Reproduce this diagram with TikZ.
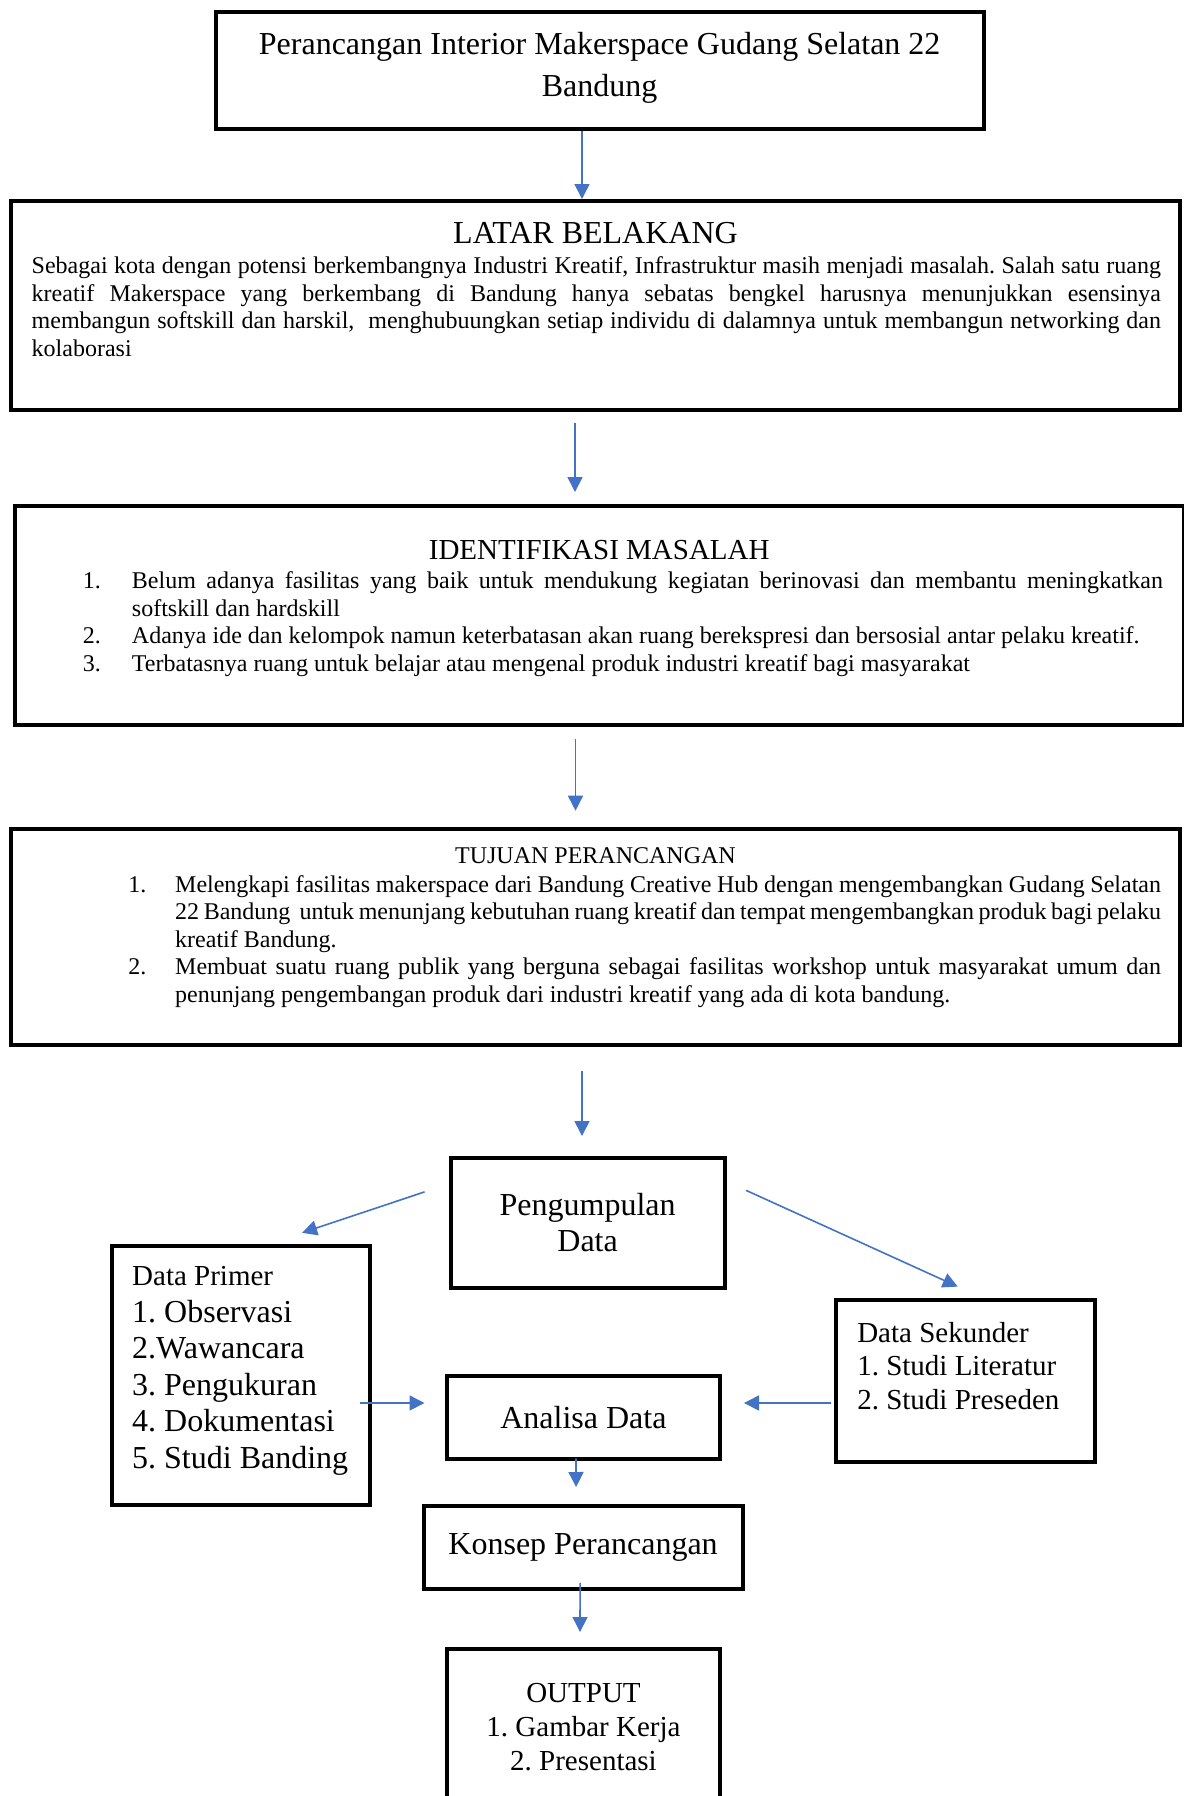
\documentclass[tikz,border=0pt]{standalone}
\usepackage{fontspec}
\setmainfont{Liberation Serif}
\usetikzlibrary{arrows.meta, positioning}
\definecolor{flowblue}{RGB}{68,114,196}
\frenchspacing
\newcommand{\numitem}[2]{\par\hangindent=#1\hangafter=1\noindent\makebox[#1][l]{#2}}
\newcommand{\firstline}[1]{\rule{0pt}{#1}}

\begin{document}
\begin{tikzpicture}[x=0.5pt, y=-0.5pt,
  frame/.style={rectangle, draw=black, line width=2pt, inner sep=0pt, align=center},
  flow/.style={draw=flowblue, line width=0.8pt, -{Triangle[length=7.5pt, width=7.5pt]}}
]
\clip (0,0) rectangle (1184,1796);

% kotak judul dan tiga kotak besar
\node[frame] (judul) at (599.65,70) {\parbox[c][58.5pt][t]{383.95pt}{\centering\fontsize{16}{21.25}\selectfont
  \firstline{21.25pt}Perancangan Interior Makerspace Gudang Selatan 22\\ Bandung}};

\node[frame] (latar) at (595.5,305.5) {\parbox[c][104.5pt][t]{584.5pt}{%
  {\centering\fontsize{16}{19}\selectfont\firstline{21pt}LATAR BELAKANG\par}
  \vspace{1.45pt}
  \fontsize{12}{13.8}\selectfont\leftskip=10.35pt\rightskip=9.5pt
  Sebagai kota dengan potensi berkembangnya Industri Kreatif, Infrastruktur masih menjadi masalah. Salah satu ruang\linebreak
  kreatif Makerspace yang berkembang di Bandung hanya sebatas bengkel harusnya menunjukkan esensinya\linebreak
  membangun softskill dan harskil, \ menghubuungkan setiap individu di dalamnya untuk membangun networking dan\linebreak
  kolaborasi\par}};

\node[frame] (identifikasi) at (599.25,615) {\parbox[c][109.5pt][t]{584.75pt}{%
  {\centering\fontsize{14.5}{17}\selectfont\firstline{26.85pt}IDENTIFIKASI MASALAH\par}
  \vspace{0.8pt}
  \fontsize{12}{13.8}\selectfont\leftskip=34.25pt\rightskip=10.5pt
  \numitem{24.5pt}{1.}Belum adanya fasilitas yang baik untuk mendukung kegiatan berinovasi dan membantu meningkatkan\linebreak
  softskill dan hardskill
  \numitem{24.5pt}{2.}Adanya ide dan kelompok namun keterbatasan akan ruang berekspresi dan bersosial antar pelaku kreatif.
  \numitem{24.5pt}{3.}Terbatasnya ruang untuk belajar atau mengenal produk industri kreatif bagi masyarakat\par}};

\node[frame] (tujuan) at (595.5,936.75) {\parbox[c][107.75pt][t]{584.5pt}{%
  {\centering\fontsize{12}{13.8}\selectfont\firstline{17.15pt}TUJUAN PERANCANGAN\par}
  \vspace{0.55pt}
  \fontsize{12}{13.8}\selectfont\leftskip=58.7pt\rightskip=9.5pt
  \numitem{23.4pt}{1.}Melengkapi fasilitas makerspace dari Bandung Creative Hub dengan mengembangkan Gudang Selatan\linebreak
  22 Bandung \ untuk menunjang kebutuhan ruang kreatif dan tempat mengembangkan produk bagi pelaku\linebreak
  kreatif Bandung.
  \numitem{23.4pt}{2.}Membuat suatu ruang publik yang berguna sebagai fasilitas workshop untuk masyarakat umum dan\linebreak
  penunjang pengembangan produk dari industri kreatif yang ada di kota bandung.\par}};

% bagian pengumpulan data
\node[frame, minimum width=137pt, minimum height=65.15pt, font=\fontsize{16}{18}\selectfont] (pengumpulan) at (587.6,1222.85) {Pengumpulan\\Data};

\node[frame] (primer) at (240.55,1375.4) {\parbox[c][129.6pt][t]{129.05pt}{\raggedright\leftskip=10.35pt
  \fontsize{14.5}{18.25}\selectfont\firstline{19.9pt}Data Primer\par
  \fontsize{16}{18.25}\selectfont 1. Observasi\par 2.Wawancara\par 3. Pengukuran\par 4. Dokumentasi\par 5. Studi Banding\par}};

\node[frame] (sekunder) at (965.25,1380.95) {\parbox[c][81.35pt][t]{129.45pt}{\raggedright\leftskip=10.75pt
  \fontsize{14.5}{16.9}\selectfont\firstline{21.2pt}Data Sekunder\par 1. Studi Literatur\par 2. Studi Preseden\par}};

\node[frame, minimum width=136.55pt, minimum height=41.35pt, font=\fontsize{16}{18}\selectfont] (analisa) at (583.45,1417.15) {Analisa Data};
\node[frame, minimum width=159.6pt, minimum height=41.8pt, font=\fontsize{16}{18}\selectfont] (konsep) at (583.1,1547.6) {Konsep Perancangan};

\node[frame] (output) at (583.5,1743.35) {\parbox[c][94.65pt][t]{136.5pt}{\centering\fontsize{14.5}{17}\selectfont
  \firstline{26.9pt}OUTPUT\\ 1. Gambar Kerja\\ 2. Presentasi}};

% panah
\draw[flow] ([shift={(-17.65,0)}]judul.south) -- ([shift={(-13.5,0)}]latar.north);
\draw[flow] ([shift={(-20.5,11)}]latar.south) -- ([shift={(-24.25,-11.5)}]identifikasi.north);
\draw[flow] ([shift={(-23.75,12)}]identifikasi.south) -- ([shift={(-20,-16.3)}]tujuan.north);
\draw[flow] ([shift={(-13.5,24.5)}]tujuan.south) -- ([shift={(-5.6,-19.7)}]pengumpulan.north);
\draw[flow] ([shift={(-24,-31)}]pengumpulan.west) -- ([shift={(61.5,-11)}]primer.north);
\draw[flow] ([shift={(19.5,-32.5)}]pengumpulan.east) -- ([shift={(-7.5,-11)}]sekunder.north);
\draw[flow] ([shift={(-12,27.6)}]primer.east) -- ([shift={(-20.4,-14.15)}]analisa.west);
\draw[flow] ([shift={(-2.8,22)}]sekunder.west) -- ([shift={(22,-14.15)}]analisa.east);
\draw[flow] ([shift={(-7.5,-2)}]analisa.south) -- ([shift={(-7,-16.8)}]konsep.north);
\draw[flow] ([shift={(-3,-8.5)}]konsep.south) -- ([shift={(-3.5,-14.7)}]output.north);
\end{tikzpicture}
\end{document}
